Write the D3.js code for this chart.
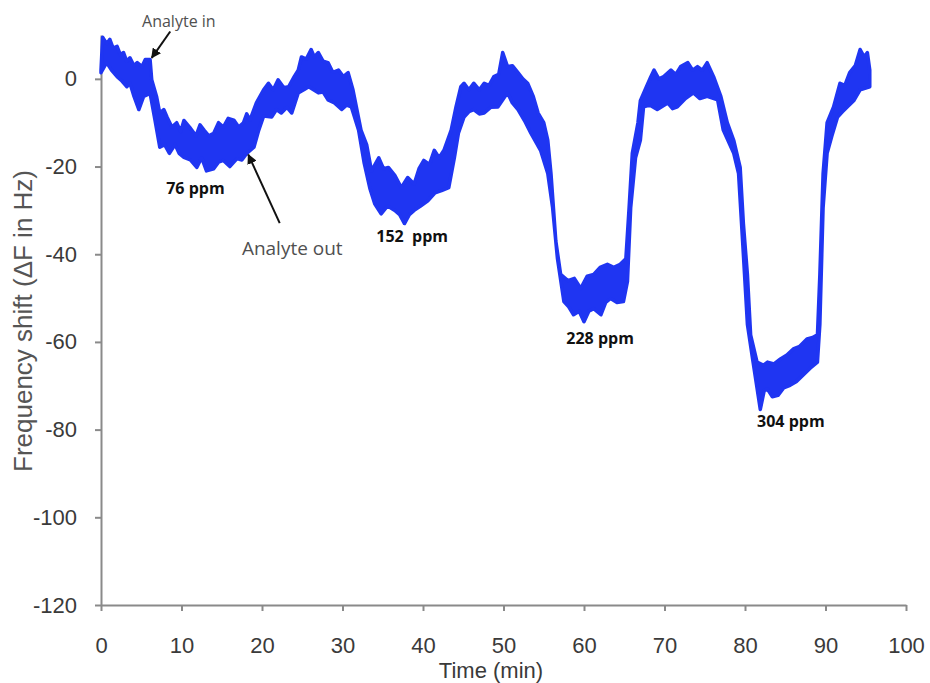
<!DOCTYPE html>
<html>
<head>
<meta charset="utf-8">
<script src="https://cdn.jsdelivr.net/npm/d3@7"></script>
<style>
  html, body { margin: 0; padding: 0; background: #fff; }
  svg { display: block; }
  .axis text { font-family: "Liberation Sans", Arial, sans-serif; font-size: 22px; fill: #3a3a3a; }
  .axis path, .axis line { stroke: #8a8a8a; stroke-width: 2px; }
  .note { font-family: "Open Sans", sans-serif; fill: #505050; }
  .ppm { font-family: "Open Sans", sans-serif; font-weight: bold; font-size: 16px; fill: #111; }
</style>
</head>
<body>
<svg id="chart" width="930" height="683"></svg>
<script>
// upper edge of the noisy trace, [time (min), shift (Hz)]
const upperEdge = [
  [0, 2], [0.2, 9.5], [0.7, 8], [1.1, 9], [1.5, 7], [2, 7.4], [2.4, 5.5], [2.8, 6], [3.2, 4], [3.6, 4.8],
  [4.1, 3], [4.5, 3.7], [5.1, 2.8], [5.5, 4.4], [6.1, 4.4], [6.3, -0.2], [6.9, -4], [7.3, -7.8],
  [7.8, -7], [8.2, -8.7], [8.8, -11], [9.4, -10], [9.9, -12], [10.3, -9.5], [11, -11], [11.8, -13],
  [12.3, -10.5], [12.8, -11.7], [13.4, -13], [14, -12.4], [14.6, -10], [15.2, -11], [15.8, -9],
  [16.5, -9.4], [17.1, -11], [17.7, -10], [18.1, -8], [18.5, -9.4], [19.3, -5.5], [20.2, -2.5],
  [20.8, -1], [21.4, -2.5], [22, -0.2], [22.7, -2], [23.3, -1.8], [24, 0.5], [24.5, 2], [24.9, 5],
  [25.5, 4.5], [26.1, 6.7], [26.5, 5], [27, 6], [27.6, 4], [28.2, 3.7], [28.8, 1.5], [29.5, 2],
  [30.1, 0.5], [30.7, 1.4], [31.3, -2.5], [32.3, -11.7], [33, -15], [33.6, -21], [34.5, -18],
  [35.1, -20.5], [35.7, -20.2], [36.5, -22], [37.3, -24.8], [38.1, -22.5], [38.9, -24],
  [39.5, -20.5], [40.1, -18.6], [40.8, -19.5], [41.4, -16.3], [42, -18], [42.6, -16.3], [43.5, -11.7],
  [44.1, -6.4], [44.7, -1.8], [45.1, -1], [45.7, -2.5], [46.3, -1], [47, -2.5], [47.6, -1],
  [48.2, -1.5], [48.8, 0.5], [49.4, 1], [49.9, 6], [50.5, 2.8], [51.1, 3], [51.8, 1.4], [52.4, 0],
  [53, -1], [53.7, -4], [54.3, -7.8], [55, -10], [55.5, -14], [55.9, -21.6], [56.5, -37], [57.1, -44.6],
  [58, -46], [58.8, -45.5], [59.6, -47.8], [60.4, -45], [61.2, -44.6], [62, -43], [62.9, -42.3],
  [63.7, -43], [64.5, -42.3], [65.2, -41], [65.6, -29.4], [66, -17], [66.7, -10], [67, -5],
  [67.7, -2], [68.3, 0.5], [68.7, 2], [69.3, 0], [69.9, 0.5], [70.8, 2], [71.4, 1], [72, 2.8],
  [72.9, 3.7], [73.5, 2], [74.1, 2.8], [74.7, 2], [75.3, 3.7], [76.1, 0.5], [77, -4], [77.8, -10],
  [78.6, -14], [79.4, -20.2], [79.8, -33], [80.3, -44.6], [80.7, -58.4], [81.5, -64.6], [82.3, -65.3],
  [82.8, -64.6], [83.6, -65], [84.4, -63.9], [85.2, -63], [86, -61.6], [86.8, -61], [87.7, -59.3],
  [88.4, -59], [89, -58.4], [89.3, -44.6], [89.7, -21.6], [90.2, -10], [91, -6.4], [91.8, -1],
  [92.4, -1.5], [93, 1.4], [93.7, 3], [94.3, 6.7], [94.8, 5], [95.2, 6], [95.5, 2]
];

// lower edge of the noisy trace
const lowerEdge = [
  [0, 1.4], [0.7, 3.7], [1.3, 2], [2, 0.5], [2.6, -0.5], [3.2, -1.8], [3.6, -1], [4.1, -4], [4.7, -7],
  [5.3, -4], [6.1, -3.3], [6.7, -9.4], [7.3, -15.6], [7.9, -15], [8.5, -17], [9.2, -15], [9.7, -17],
  [10.3, -17.9], [11.1, -18.5], [11.9, -20.2], [12.5, -18], [13.1, -21], [14, -20.5], [14.6, -19],
  [15.2, -18.6], [16, -20], [16.9, -18.2], [17.5, -18.5], [18.1, -17], [19, -15.6], [19.6, -11.7],
  [20.2, -8.5], [21.2, -8.7], [21.8, -7], [22.4, -7.8], [23.1, -6.5], [23.7, -7.8], [24.5, -3.2],
  [25.2, -2.5], [25.8, -1.8], [26.4, -2.5], [27, -3.2], [27.6, -3], [28.2, -4.8], [29, -5.5],
  [29.9, -7], [30.5, -6], [31.1, -6.4], [32, -11.7], [32.7, -19.3], [33.4, -25], [34, -28.5],
  [34.8, -30.8], [35.6, -29], [36.5, -30], [37.1, -31], [37.7, -33], [38.3, -31], [38.9, -30],
  [39.7, -29], [40.6, -27.8], [41.5, -26], [42.3, -25.5], [43.2, -24.8], [43.9, -18], [44.4, -12.4],
  [45.1, -8.7], [45.7, -7.5], [46.3, -7], [47, -8], [47.6, -7.8], [48.4, -6.5], [49.3, -6.4],
  [50.5, -3.2], [51.1, -5.5], [51.8, -7], [52.6, -9.5], [53.4, -12.4], [54.6, -16.3], [55.5, -21.6],
  [56.1, -29.4], [56.7, -41], [57.5, -50.8], [58.1, -52], [58.7, -53.8], [59.4, -53], [60, -55.4],
  [60.6, -53], [61.2, -52.4], [62.1, -53.8], [62.7, -51], [63.3, -50.1], [64.1, -51], [64.9, -50.8],
  [65.4, -46.2], [65.8, -29.4], [66.4, -18], [67, -14], [67.4, -6.4], [68.2, -6], [69.1, -7],
  [70.4, -5.5], [71, -6.8], [71.6, -6.4], [72.6, -4.5], [73.6, -3.2], [74.4, -4.5], [75.3, -4],
  [76.6, -4.8], [77.3, -11.7], [78.6, -17], [79.2, -21.6], [79.7, -37], [80.3, -56], [81, -64.6],
  [81.9, -75.4], [82.4, -71], [82.8, -70.8], [83.4, -72.5], [84.1, -72.2], [84.8, -70.5],
  [85.6, -69.9], [86.4, -69], [87.2, -67.6], [88.1, -66], [89, -64.6], [89.3, -56], [89.7, -29.4],
  [90.2, -17], [90.8, -13], [91.5, -8.7], [92.1, -7.5], [92.7, -6.4], [93.5, -5], [94.3, -2.5],
  [95.5, -1.8]
];

const xTicks = [0, 10, 20, 30, 40, 50, 60, 70, 80, 90, 100];
const yTicks = [-120, -100, -80, -60, -40, -20, 0];

// concentration labels: [text, time, shift] (left end of text, baseline)
const ppmLabels = [
  ['76 ppm', 8.1, -26.3],
  ['152\u00a0\u00a0ppm', 34.2, -37.3],
  ['228 ppm', 57.8, -60.5],
  ['304 ppm', 81.5, -79.5]
];

// arrows: [label, textTime, textShift, fromT, fromV, toT, toV, fontSize]
const arrowNotes = [
  ['Analyte in', 5.1, 11.8, 8.6, 10.8, 6.3, 4.8, 16],
  ['Analyte out', 17.5, -40.2, 22.2, -32.9, 18.3, -17.3, 19]
];

const svg = d3.select('#chart');

const x = d3.scaleLinear().domain([0, 100]).range([101, 906]);
const y = d3.scaleLinear().domain([-120, 10]).range([605, 35]);

// axes
svg.append('g')
  .attr('class', 'axis')
  .attr('transform', `translate(0,${y(-120)})`)
  .call(d3.axisBottom(x).tickValues(xTicks).tickFormat(d => String(d))
    .tickSize(6).tickSizeOuter(0).tickPadding(26))
  .call(g => g.selectAll('text').attr('dy', '0.71em'));

svg.append('g')
  .attr('class', 'axis')
  .attr('transform', `translate(${x(0)},0)`)
  .call(d3.axisLeft(y).tickValues(yTicks).tickFormat(d => String(d))
    .tickSize(6).tickSizeOuter(0).tickPadding(18));

// axis titles
svg.append('text')
  .attr('x', 491).attr('y', 678)
  .attr('text-anchor', 'middle')
  .style('font-family', '"Liberation Sans", Arial, sans-serif')
  .style('font-size', '22px')
  .style('fill', '#3a3a3a')
  .text('Time (min)');

svg.append('text')
  .attr('transform', 'translate(32,321) rotate(-90)')
  .attr('text-anchor', 'middle')
  .style('font-family', '"Liberation Sans", Arial, sans-serif')
  .style('font-size', '26px')
  .style('fill', '#555')
  .text('Frequency shift (\u0394F in Hz)');

// trace band
const line = d3.line()
  .x(d => x(d[0]))
  .y(d => y(d[1]));

const band = upperEdge.concat(lowerEdge.slice().reverse());

svg.append('path')
  .attr('d', line(band) + 'Z')
  .attr('fill', '#1f35f2')
  .attr('stroke', '#1f35f2')
  .attr('stroke-width', 3.5)
  .attr('stroke-linejoin', 'round');

// ppm labels
svg.selectAll('text.ppm')
  .data(ppmLabels)
  .join('text')
  .attr('class', 'ppm')
  .attr('x', d => x(d[1]))
  .attr('y', d => y(d[2]))
  .text(d => d[0]);

// arrows
svg.append('defs').append('marker')
  .attr('id', 'head')
  .attr('viewBox', '0 0 10 10')
  .attr('refX', 9).attr('refY', 5)
  .attr('markerWidth', 5).attr('markerHeight', 5)
  .attr('orient', 'auto')
  .append('path')
  .attr('d', 'M0,0L10,5L0,10Z')
  .attr('fill', '#111');

arrowNotes.forEach(n => {
  svg.append('line')
    .attr('x1', x(n[3])).attr('y1', y(n[4]))
    .attr('x2', x(n[5])).attr('y2', y(n[6]))
    .attr('stroke', '#111')
    .attr('stroke-width', 2)
    .attr('marker-end', 'url(#head)');
  svg.append('text')
    .attr('class', 'note')
    .attr('x', x(n[1])).attr('y', y(n[2]))
    .style('font-size', n[7] + 'px')
    .text(n[0]);
});
</script>
</body>
</html>
